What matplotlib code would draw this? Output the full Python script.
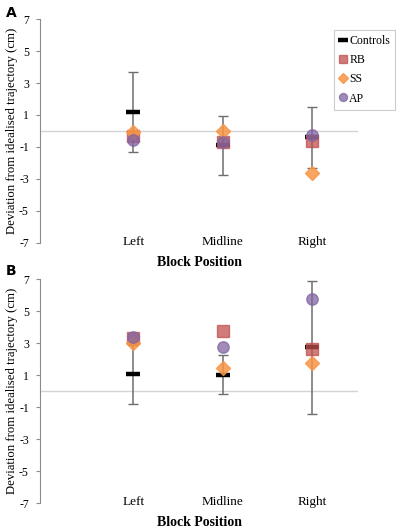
import numpy as np
import matplotlib.pyplot as plt

plt.rcParams['font.family'] = ['Liberation Serif', 'DejaVu Serif']

positions = ['Left', 'Midline', 'Right']

# panel A
ctrl_a = [1.2, -0.9, -0.4]
ctrl_err_a = [2.5, 1.85, 1.9]
rb_a = [-0.3, -0.7, -0.6]
ss_a = [-0.05, 0.0, -2.65]
ap_a = [-0.55, -0.7, -0.25]

# panel B
ctrl_b = [1.05, 1.03, 2.73]
ctrl_err_b = [1.83, 1.22, 4.17]
rb_b = [3.3, 3.77, 2.6]
ss_b = [3.0, 1.42, 1.77]
ap_b = [3.4, 2.75, 5.77]

yticks = [7, 5, 3, 1, -1, -3, -5, -7]


def draw_panel(ax, ctrl, ctrl_err, rb, ss, ap, legend=False):
    x = np.arange(1, len(positions) + 1)
    ax.axhline(0, color='#d4d4d4', lw=1.0, zorder=1)
    ax.errorbar(x, ctrl, yerr=ctrl_err, fmt='none', ecolor='#6e6e6e',
                elinewidth=1.1, capsize=3.5, capthick=1.0, zorder=2)
    ax.plot(x, ctrl, ls='none', marker='_', ms=10, mew=3.2, color='black',
            label='Controls', zorder=3)
    ax.plot(x, rb, ls='none', marker='s', ms=8, color='#c0504d', alpha=0.75,
            mec='#c0504d', label='RB', zorder=4)
    ax.plot(x, ss, ls='none', marker='D', ms=7, color='#f79646', alpha=0.85,
            mec='#f79646', label='SS', zorder=5)
    ax.plot(x, ap, ls='none', marker='o', ms=8.2, color='#8064a2', alpha=0.75,
            mec='#8064a2', label='AP', zorder=6)

    ax.set_xlim(-0.04, 3.51)
    ax.set_ylim(-7, 7)
    ax.set_yticks(yticks)
    ax.set_yticklabels([str(t) for t in yticks], fontsize=8.5)
    ax.set_xticks(x)
    ax.set_xticklabels(positions, fontsize=9.5)
    ax.tick_params(axis='x', length=0, pad=-5)
    ax.tick_params(axis='y', length=3, width=0.8, color='#8c8c8c', pad=5)
    for s in ['top', 'right', 'bottom']:
        ax.spines[s].set_visible(False)
    ax.spines['left'].set_color('#8c8c8c')
    ax.spines['left'].set_linewidth(0.8)
    ax.set_ylabel('Deviation from idealised trajectory (cm)', fontsize=9.2)
    ax.yaxis.set_label_coords(-0.07, 0.5)
    ax.set_xlabel('Block Position', fontsize=10, fontweight='bold', labelpad=6)

    if legend:
        leg = ax.legend(loc='upper left', bbox_to_anchor=(0.9245, 0.951),
                        fontsize=8.5, frameon=True, fancybox=False,
                        handlelength=0.6, handletextpad=0.25, borderpad=0.45,
                        labelspacing=0.6, markerscale=0.7, borderaxespad=0)
        leg.get_frame().set_edgecolor('#bfbfbf')
        leg.get_frame().set_linewidth(0.8)


fig = plt.figure(figsize=(3.97, 5.28), dpi=100)
ax_a = fig.add_axes([0.1008, 0.5398, 0.801, 0.4242])
ax_b = fig.add_axes([0.1008, 0.0473, 0.801, 0.4242])

draw_panel(ax_a, ctrl_a, ctrl_err_a, rb_a, ss_a, ap_a, legend=True)
draw_panel(ax_b, ctrl_b, ctrl_err_b, rb_b, ss_b, ap_b)

fig.text(0.015, 0.988, 'A', fontsize=10, fontweight='bold', family='DejaVu Sans', va='top')
fig.text(0.015, 0.5, 'B', fontsize=10, fontweight='bold', family='DejaVu Sans', va='top')

fig.savefig('out.png', dpi=100)
